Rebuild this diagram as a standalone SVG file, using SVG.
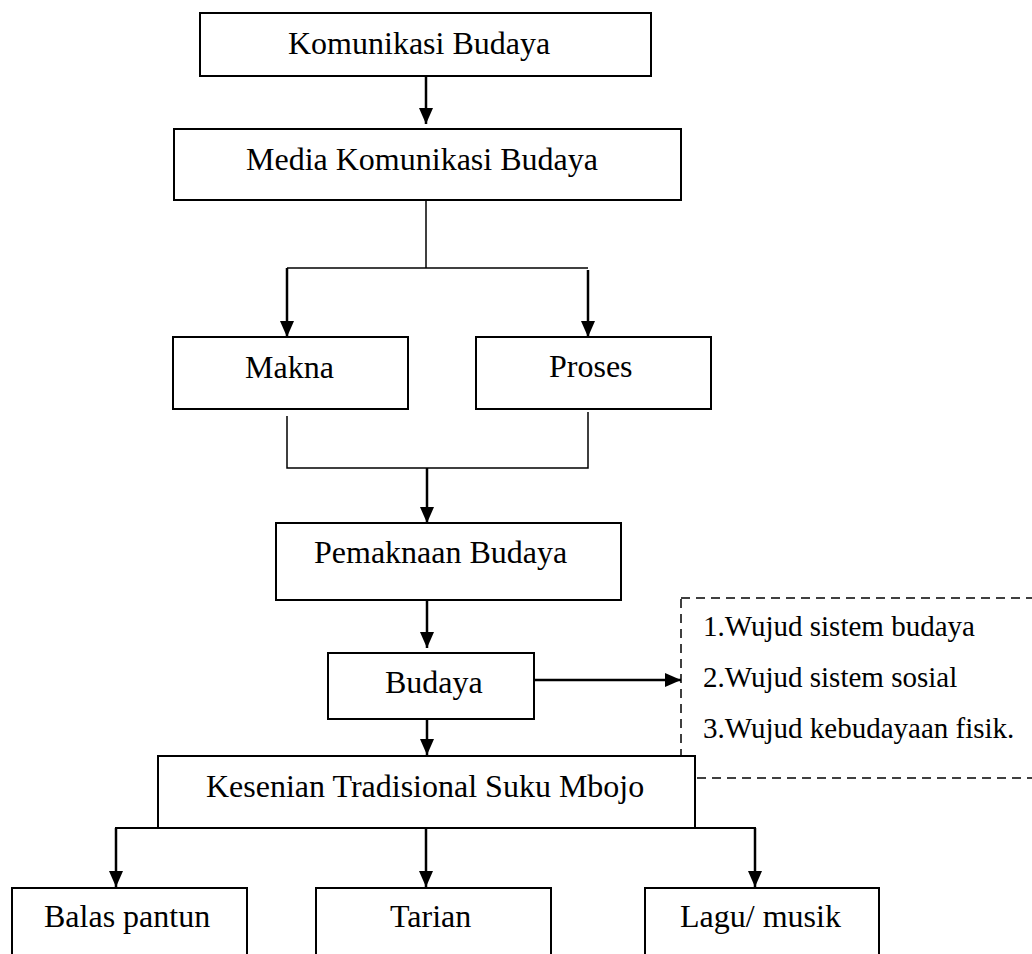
<svg xmlns="http://www.w3.org/2000/svg" width="1032" height="954" viewBox="0 0 1032 954">
<style>
.box{fill:#fff;stroke:#000;stroke-width:2}
.t{font-family:"Liberation Serif","Times New Roman",serif;font-size:32px;fill:#000}
.l{font-family:"Liberation Serif","Times New Roman",serif;font-size:29px;fill:#000}
.arr{fill:none;stroke:#000;stroke-width:2.5;marker-end:url(#ah)}
.thin{fill:none;stroke:#000;stroke-width:1.5}
.mid{fill:none;stroke:#000;stroke-width:2}
.dash{fill:none;stroke:#000;stroke-width:1.5;stroke-dasharray:9 6}
</style>
<defs>
<marker id="ah" viewBox="0 0 16 14" refX="16" refY="7" markerWidth="16" markerHeight="14" markerUnits="userSpaceOnUse" orient="auto">
<path d="M0,0 L16,7 L0,14 z" fill="#000"/>
</marker>
</defs>
<rect width="1032" height="954" fill="#fff"/>
<g id="connectors">
<line class="arr" x1="426" y1="77" x2="426" y2="124"/>
<line class="thin" x1="426" y1="200" x2="426" y2="268"/>
<line class="thin" x1="287" y1="268" x2="588" y2="268"/>
<line class="arr" x1="287" y1="268" x2="287" y2="337"/>
<line class="arr" x1="588" y1="270" x2="588" y2="337"/>
<polyline class="thin" points="287,416 287,468 588,468 588,412"/>
<line class="arr" x1="427" y1="468" x2="427" y2="523"/>
<line class="arr" x1="427" y1="600" x2="427" y2="648"/>
<line class="arr" x1="534" y1="680" x2="681" y2="680"/>
<line class="arr" x1="427" y1="719" x2="427" y2="755"/>
<polyline class="mid" points="116,887 116,828 755,828 755,887"/>
<line class="arr" x1="116" y1="828" x2="116" y2="887"/>
<line class="arr" x1="426" y1="828" x2="426" y2="887"/>
<line class="arr" x1="755" y1="828" x2="755" y2="887"/>
</g>
<g id="komunikasi-budaya">
<rect class="box" x="200" y="13" width="451" height="63"/>
<text class="t" x="288" y="54">Komunikasi Budaya</text>
</g>
<g id="media-komunikasi-budaya">
<rect class="box" x="174" y="129" width="507" height="71"/>
<text class="t" x="246" y="170">Media Komunikasi Budaya</text>
</g>
<g id="makna">
<rect class="box" x="173" y="337" width="235" height="72"/>
<text class="t" x="245" y="378">Makna</text>
</g>
<g id="proses">
<rect class="box" x="476" y="337" width="235" height="72"/>
<text class="t" x="549" y="377">Proses</text>
</g>
<g id="pemaknaan-budaya">
<rect class="box" x="276" y="523" width="345" height="77"/>
<text class="t" x="314" y="563">Pemaknaan Budaya</text>
</g>
<g id="budaya">
<rect class="box" x="328" y="653" width="206" height="66"/>
<text class="t" x="385" y="693">Budaya</text>
</g>
<g id="wujud">
<rect class="dash" x="681" y="598" width="380" height="180"/>
<text class="l" x="703" y="636">1.Wujud sistem budaya</text>
<text class="l" x="703" y="687">2.Wujud sistem sosial</text>
<text class="l" x="703" y="738">3.Wujud kebudayaan fisik.</text>
</g>
<g id="kesenian">
<rect class="box" x="158" y="756" width="537" height="72"/>
<text class="t" x="206" y="797">Kesenian Tradisional Suku Mbojo</text>
</g>
<g id="balas-pantun">
<rect class="box" x="12" y="888" width="235" height="100"/>
<text class="t" x="44" y="927">Balas pantun</text>
</g>
<g id="tarian">
<rect class="box" x="316" y="888" width="235" height="100"/>
<text class="t" x="390" y="927">Tarian</text>
</g>
<g id="lagu-musik">
<rect class="box" x="645" y="888" width="234" height="100"/>
<text class="t" x="680" y="927">Lagu/ musik</text>
</g>
</svg>
